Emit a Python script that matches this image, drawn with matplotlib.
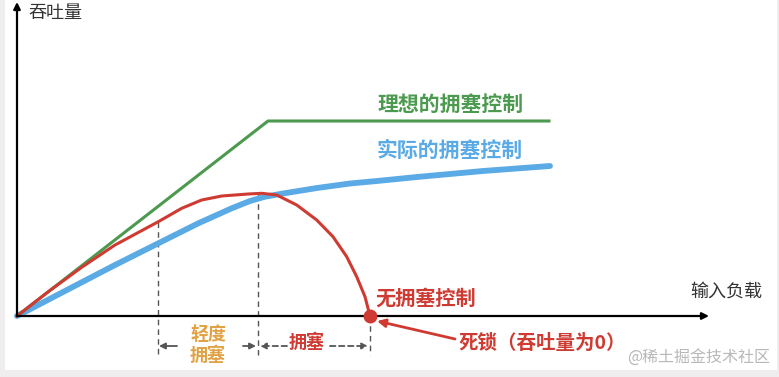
import matplotlib
matplotlib.use('Agg')
from matplotlib import pyplot as plt
from matplotlib.patches import Rectangle

plt.rcParams['font.family'] = ['Noto Sans CJK SC', 'DejaVu Sans']

# 理想的拥塞控制 (green)
ideal_x = [0, 25.1, 53.2]
ideal_y = [0, 19.5, 19.5]

# 实际的拥塞控制 (blue)
actual_x = [0, 3.13, 6.47, 9.8, 14.13, 18.13, 21.47, 23.3, 24.8, 26.6, 30.0, 33.3, 36.0,
            40, 46.6, 53.3]
actual_y = [0, 1.63, 3.37, 5.1, 7.27, 9.27, 10.77, 11.5, 11.93, 12.25, 12.8, 13.25, 13.5,
            13.9, 14.5, 15.0]

# 无拥塞控制 (red)
none_x = [0, 3.13, 6.47, 9.8, 14.13, 16.47, 18.47, 20.47, 23.13, 24.47, 25.97, 27.97,
          29.97, 31.6, 32.97, 33.97, 34.8, 35.23, 35.3]
none_y = [0, 2.43, 4.87, 7.1, 9.43, 10.77, 11.6, 12.0, 12.2, 12.27, 12.1, 11.1,
          9.6, 7.93, 5.93, 3.93, 1.93, 0.27, 0]

green = '#4c9a4f'
blue = '#5aaae6'
red = '#cf3b32'
orange = '#e0a244'
gray = '#555555'

fig = plt.figure(figsize=(7.79, 3.77), dpi=100)
fig.patch.set_facecolor('#efeded')
fig.patches.append(Rectangle((5 / 779, 7 / 377), 772 / 779, 370 / 377,
                             transform=fig.transFigure, facecolor='white',
                             edgecolor='none', zorder=-10))
ax = fig.add_axes([0, 0, 1, 1])
ax.set_zorder(1)
ax.set_xlim(-1.7, 76.2)
ax.set_ylim(-6.1, 31.6)
ax.axis('off')

# 坐标轴
ax.annotate('', xy=(0, 31.4), xytext=(0, 0),
            arrowprops=dict(arrowstyle='-|>', color='black', lw=1.6,
                            mutation_scale=10, shrinkA=0, shrinkB=0))
ax.annotate('', xy=(69.2, 0), xytext=(0, 0),
            arrowprops=dict(arrowstyle='-|>', color='black', lw=1.6,
                            mutation_scale=10, shrinkA=0, shrinkB=0))

# 虚线
ax.plot([14.1, 14.1], [9.4, -3.9], color=gray, lw=1, ls=(0, (4, 3)))
ax.plot([24.1, 24.1], [12.25, -3.9], color=gray, lw=1, ls=(0, (4, 3)))
ax.plot([35.3, 35.3], [0, -3.9], color=gray, lw=1, ls=(0, (4, 3)))

ax.plot(actual_x, actual_y, color=blue, lw=4.2, solid_capstyle='round',
        solid_joinstyle='round')
ax.plot(ideal_x, ideal_y, color=green, lw=2.2)
ax.plot(none_x, none_y, color=red, lw=2.2, solid_joinstyle='round')
ax.plot([35.3], [0], 'o', color=red, markersize=9, zorder=5)

# 文字
ax.text(1.1, 30.3, '吞吐量', fontsize=13, color='#333333', va='center')
ax.text(67.3, 2.4, '输入负载', fontsize=13, color='#333333', va='center')
ax.text(36.0, 21.2, '理想的拥塞控制', fontsize=15, color=green, va='center', fontweight='bold')
ax.text(36.0, 16.6, '实际的拥塞控制', fontsize=15, color=blue, va='center', fontweight='bold')
ax.text(35.8, 1.8, '无拥塞控制', fontsize=14.5, color=red, va='center', fontweight='bold')
ax.text(44.1, -2.7, '死锁（吞吐量为0）', fontsize=14, color=red, va='center', fontweight='bold')
ax.annotate('', xy=(36.0, -0.5), xytext=(43.8, -2.3),
            arrowprops=dict(arrowstyle='-|>', color=red, lw=2, mutation_scale=12,
                            shrinkA=0, shrinkB=0))

ax.text(19.1, -2.9, '轻度\n拥塞', fontsize=13, color=orange, va='center', ha='center',
        fontweight='bold', linespacing=1.15)
ax.text(29.0, -2.6, '拥塞', fontsize=13, color=red, va='center', ha='center',
        fontweight='bold')

arr = dict(arrowstyle='-|>', color=gray, lw=1.3, mutation_scale=9, shrinkA=0, shrinkB=0)
arr_d = dict(arr, linestyle=(0, (3, 2)))
ax.annotate('', xy=(14.2, -3.0), xytext=(16.0, -3.0), arrowprops=arr)
ax.annotate('', xy=(23.9, -3.0), xytext=(22.6, -3.0), arrowprops=arr)
ax.annotate('', xy=(24.3, -3.0), xytext=(27.0, -3.0), arrowprops=arr_d)
ax.annotate('', xy=(35.1, -3.0), xytext=(31.3, -3.0), arrowprops=arr_d)

ax.text(61.0, -4.2, '@稀土掘金技术社区', fontsize=11.5, color='#b8b8b8', va='center')

plt.savefig('out.png', dpi=100, facecolor=fig.get_facecolor())
